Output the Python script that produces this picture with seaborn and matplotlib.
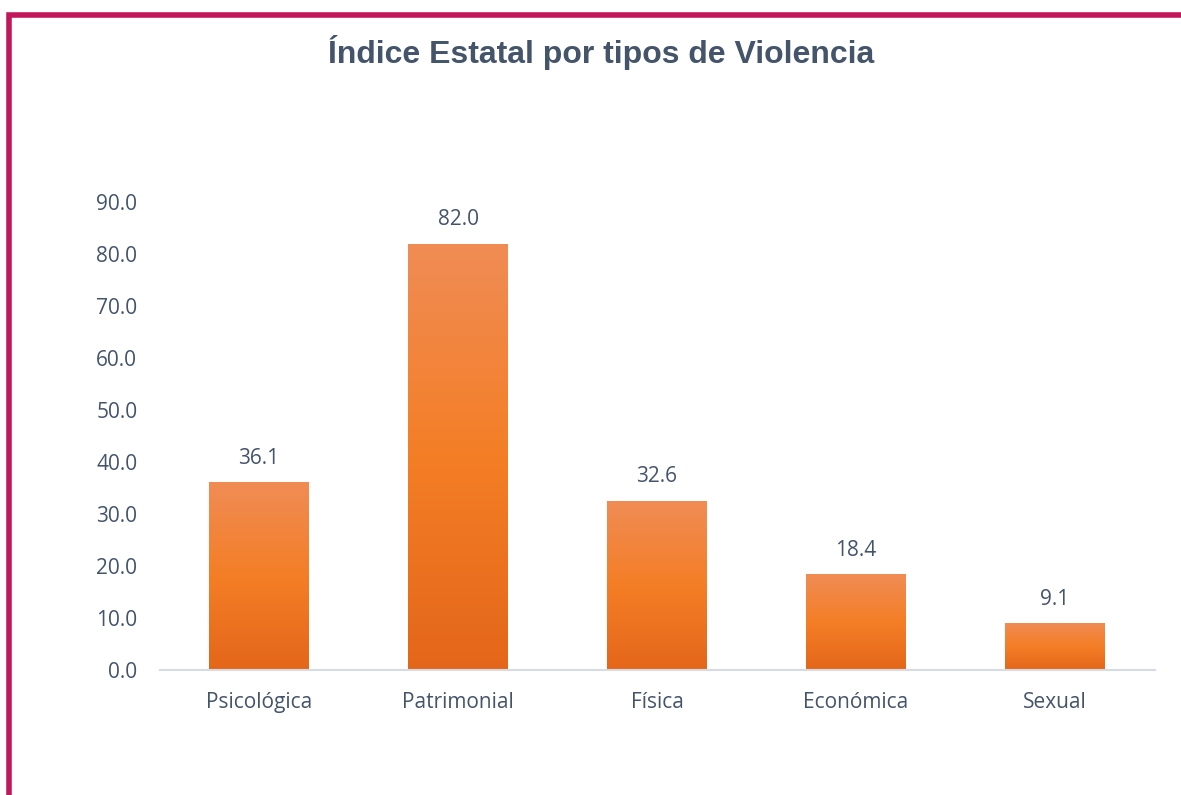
import numpy as np
import pandas as pd
import matplotlib.pyplot as plt
import seaborn as sns
from matplotlib.colors import LinearSegmentedColormap
from matplotlib.patches import Rectangle

# datos del gráfico
tipos = ["Psicológica", "Patrimonial", "Física", "Económica", "Sexual"]
indice = [36.1, 82.0, 32.6, 18.4, 9.1]
y_ticks = [0, 10, 20, 30, 40, 50, 60, 70, 80, 90]

df = pd.DataFrame({"tipo": tipos, "indice": indice})

sns.set_style("white")
plt.rcParams["font.family"] = ["Open Sans", "DejaVu Sans"]

texto = "#44546A"
borde = "#C2185B"

fig = plt.figure(figsize=(11.81, 7.95), dpi=100)
ax = fig.add_axes([0.1351, 0.1572, 0.8425, 0.5887])

sns.barplot(data=df, x="tipo", y="indice", color="#F47C20", width=0.5, ax=ax)

# degradado naranja en cada barra
grad = LinearSegmentedColormap.from_list("naranja", ["#E4661A", "#F47E26", "#F08C55"])
img = np.linspace(0, 1, 256).reshape(-1, 1)
for p in ax.patches:
    x0, y0 = p.get_x(), p.get_y()
    w, h = p.get_width(), p.get_height()
    im = ax.imshow(img, cmap=grad, origin="lower", aspect="auto",
                   extent=[x0, x0 + w, y0, y0 + h], zorder=p.get_zorder() + 0.1)
    im.set_clip_path(p)
    ax.annotate(f"{h:.1f}", (x0 + w / 2, h), xytext=(0, 17), textcoords="offset points",
                ha="center", va="center", fontsize=15, color=texto)

ax.set_xlim(-0.5, 4.5)
ax.set_ylim(0, 90)
ax.set_yticks(y_ticks)
ax.set_yticklabels([f"{v:.1f}" for v in y_ticks])
ax.set_xlabel("")
ax.set_ylabel("")
ax.tick_params(axis="both", length=0, labelsize=15, labelcolor=texto)
ax.tick_params(axis="x", pad=16)
ax.tick_params(axis="y", pad=16)
for s in ["top", "right", "left"]:
    ax.spines[s].set_visible(False)
ax.spines["bottom"].set_color("#D6DCE5")
ax.spines["bottom"].set_linewidth(1.5)

fig.text(0.509, 0.934, "Índice Estatal por tipos de Violencia", ha="center", va="center",
         fontsize=23, fontweight="bold", color=texto, family=["Liberation Sans", "DejaVu Sans"])

# marco magenta (solo arriba e izquierda visibles)
fig.patches.append(Rectangle((9.5 / 1181, -0.1), 1.2, 1 - 14.5 / 795 + 0.1,
                             transform=fig.transFigure, fill=False, edgecolor=borde,
                             linewidth=4, zorder=10))

fig.savefig("out.png", dpi=100)
